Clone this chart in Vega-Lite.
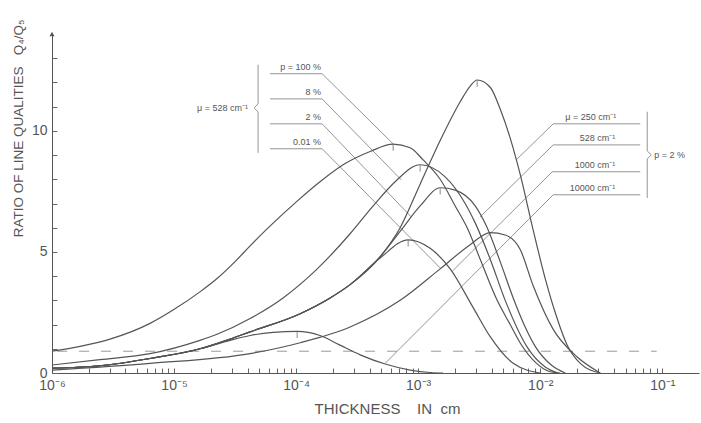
{
  "$schema": "https://vega.github.io/schema/vega-lite/v6.json",
  "width": 647,
  "height": 339,
  "autosize": {"type": "none"},
  "padding": {"left": 52, "top": 34, "right": 2, "bottom": 50},
  "background": "white",
  "config": {"view": {"stroke": null}, "font": "Liberation Sans"},
  "datasets": {
    "curves": [
      {"s":"A","x":1e-6,"y":0.9},{"s":"A","x":1.7e-6,"y":1.1},{"s":"A","x":2.99e-6,"y":1.4},{"s":"A","x":6.36e-6,"y":2.05},{"s":"A","x":9.81e-6,"y":2.6},{"s":"A","x":1.63e-5,"y":3.35},{"s":"A","x":2.25e-5,"y":3.9},{"s":"A","x":3.16e-5,"y":4.6},{"s":"A","x":4.2e-5,"y":5.25},{"s":"A","x":5.78e-5,"y":5.95},{"s":"A","x":1.02e-4,"y":7.1},{"s":"A","x":1.57e-4,"y":7.9},{"s":"A","x":2.52e-4,"y":8.65},{"s":"A","x":4.04e-4,"y":9.15},{"s":"A","x":6.24e-4,"y":9.45},{"s":"A","x":8.6e-4,"y":9.3},{"s":"A","x":1.099e-3,"y":8.8},{"s":"A","x":1.515e-3,"y":8.0},{"s":"A","x":2.011e-3,"y":6.9},{"s":"A","x":2.522e-3,"y":6.0},{"s":"A","x":3.222e-3,"y":4.7},{"s":"A","x":4.441e-3,"y":3.0},{"s":"A","x":5.677e-3,"y":2.0},{"s":"A","x":6.857e-3,"y":1.24},{"s":"A","x":9.1e-3,"y":0.45},{"s":"A","x":1.208e-2,"y":0.05},{"s":"A","x":1.458e-2,"y":0},
      {"s":"B","x":1e-6,"y":0.33},{"s":"B","x":2.47e-6,"y":0.55},{"s":"B","x":6.36e-6,"y":0.8},{"s":"B","x":1.63e-5,"y":1.35},{"s":"B","x":2.25e-5,"y":1.6},{"s":"B","x":4.2e-5,"y":2.25},{"s":"B","x":7.82e-5,"y":3.1},{"s":"B","x":1.49e-4,"y":4.3},{"s":"B","x":2.77e-4,"y":5.75},{"s":"B","x":4.28e-4,"y":6.9},{"s":"B","x":6.48e-4,"y":7.9},{"s":"B","x":1.038e-3,"y":8.6},{"s":"B","x":1.665e-3,"y":8.1},{"s":"B","x":2.428e-3,"y":7.0},{"s":"B","x":2.933e-3,"y":6.2},{"s":"B","x":3.893e-3,"y":4.7},{"s":"B","x":5.166e-3,"y":3.0},{"s":"B","x":7.823e-3,"y":1.07},{"s":"B","x":1.099e-2,"y":0.25},{"s":"B","x":1.404e-2,"y":0},
      {"s":"C","x":1e-6,"y":0.2},{"s":"C","x":2.47e-6,"y":0.3},{"s":"C","x":6.36e-6,"y":0.6},{"s":"C","x":1.63e-5,"y":1.0},{"s":"C","x":2.88e-5,"y":1.4},{"s":"C","x":4.2e-5,"y":1.7},{"s":"C","x":1.08e-4,"y":2.45},{"s":"C","x":1.9e-4,"y":3.1},{"s":"C","x":2.77e-4,"y":3.65},{"s":"C","x":4.88e-4,"y":4.8},{"s":"C","x":7.12e-4,"y":5.85},{"s":"C","x":1.038e-3,"y":6.9},{"s":"C","x":1.515e-3,"y":7.65},{"s":"C","x":2.011e-3,"y":7.55},{"s":"C","x":2.933e-3,"y":6.9},{"s":"C","x":3.678e-3,"y":6.0},{"s":"C","x":4.7e-3,"y":4.6},{"s":"C","x":6.007e-3,"y":3.1},{"s":"C","x":7.53e-3,"y":1.9},{"s":"C","x":9.1e-3,"y":1.1},{"s":"C","x":1.254e-2,"y":0.3},{"s":"C","x":1.603e-2,"y":0},
      {"s":"D","x":1e-6,"y":0.2},{"s":"D","x":2.47e-6,"y":0.3},{"s":"D","x":6.36e-6,"y":0.6},{"s":"D","x":1.63e-5,"y":1.0},{"s":"D","x":2.88e-5,"y":1.4},{"s":"D","x":4.2e-5,"y":1.7},{"s":"D","x":1.08e-4,"y":2.45},{"s":"D","x":1.9e-4,"y":3.1},{"s":"D","x":2.77e-4,"y":3.65},{"s":"D","x":4.88e-4,"y":4.75},{"s":"D","x":8.28e-4,"y":5.5},{"s":"D","x":1.254e-3,"y":5.15},{"s":"D","x":1.83e-3,"y":4.3},{"s":"D","x":2.824e-3,"y":2.7},{"s":"D","x":3.893e-3,"y":1.5},{"s":"D","x":6.007e-3,"y":0.4},{"s":"D","x":1e-2,"y":0},
      {"s":"E","x":1e-6,"y":0.2},{"s":"E","x":2.47e-6,"y":0.3},{"s":"E","x":6.36e-6,"y":0.6},{"s":"E","x":1.63e-5,"y":1.0},{"s":"E","x":2.88e-5,"y":1.4},{"s":"E","x":4.2e-5,"y":1.7},{"s":"E","x":1.08e-4,"y":2.45},{"s":"E","x":1.9e-4,"y":3.1},{"s":"E","x":2.77e-4,"y":3.65},{"s":"E","x":4.88e-4,"y":4.8},{"s":"E","x":7.12e-4,"y":6.0},{"s":"E","x":1.038e-3,"y":7.8},{"s":"E","x":1.515e-3,"y":9.6},{"s":"E","x":2.21e-3,"y":11.2},{"s":"E","x":2.669e-3,"y":11.85},{"s":"E","x":3.045e-3,"y":12.1},{"s":"E","x":3.893e-3,"y":11.8},{"s":"E","x":4.7e-3,"y":10.9},{"s":"E","x":5.677e-3,"y":9.7},{"s":"E","x":6.857e-3,"y":8.2},{"s":"E","x":8.76e-3,"y":5.9},{"s":"E","x":1.099e-2,"y":3.9},{"s":"E","x":1.327e-2,"y":2.5},{"s":"E","x":1.665e-2,"y":1.15},{"s":"E","x":2.128e-2,"y":0.4},{"s":"E","x":3.103e-2,"y":0},
      {"s":"F","x":1e-6,"y":0.12},{"s":"F","x":6.36e-6,"y":0.4},{"s":"F","x":4.2e-5,"y":0.8},{"s":"F","x":1.08e-4,"y":1.25},{"s":"F","x":2.77e-4,"y":1.9},{"s":"F","x":7.12e-4,"y":3.0},{"s":"F","x":1.515e-3,"y":4.3},{"s":"F","x":2.669e-3,"y":5.3},{"s":"F","x":3.893e-3,"y":5.8},{"s":"F","x":5.166e-3,"y":5.7},{"s":"F","x":6.857e-3,"y":5.1},{"s":"F","x":8.76e-3,"y":3.6},{"s":"F","x":1.278e-2,"y":1.8},{"s":"F","x":2.011e-2,"y":0.66},{"s":"F","x":3.103e-2,"y":0},
      {"s":"G","x":1e-6,"y":0.2},{"s":"G","x":2.47e-6,"y":0.3},{"s":"G","x":6.36e-6,"y":0.6},{"s":"G","x":1.63e-5,"y":1.0},{"s":"G","x":2.88e-5,"y":1.35},{"s":"G","x":4.2e-5,"y":1.55},{"s":"G","x":6.48e-5,"y":1.68},{"s":"G","x":1.02e-4,"y":1.72},{"s":"G","x":1.57e-4,"y":1.55},{"s":"G","x":2.29e-4,"y":1.15},{"s":"G","x":3.35e-4,"y":0.75},{"s":"G","x":5.37e-4,"y":0.37},{"s":"G","x":8.6e-4,"y":0.12},{"s":"G","x":1.254e-3,"y":0.02},{"s":"G","x":1.6e-3,"y":0}
    ],
    "leaders": [
      {"s":"L1","o":1,"x":6.12e-5,"y":12.36},{"s":"L1","o":2,"x":1.634e-4,"y":12.36},{"s":"L1","o":3,"x":6.24e-4,"y":9.46},
      {"s":"L2","o":1,"x":6.12e-5,"y":11.32},{"s":"L2","o":2,"x":1.634e-4,"y":11.32},{"s":"L2","o":3,"x":7.26e-4,"y":7.98},
      {"s":"L3","o":1,"x":6.12e-5,"y":10.29},{"s":"L3","o":2,"x":1.634e-4,"y":10.29},{"s":"L3","o":3,"x":8.76e-4,"y":6.45},
      {"s":"L4","o":1,"x":6.12e-5,"y":9.26},{"s":"L4","o":2,"x":1.634e-4,"y":9.26},{"s":"L4","o":3,"x":1.543e-3,"y":4.3},
      {"s":"R1","o":1,"x":6.6e-2,"y":10.29},{"s":"R1","o":2,"x":1.278e-2,"y":10.29},{"s":"R1","o":3,"x":6.36e-3,"y":8.8},
      {"s":"R2","o":1,"x":6.6e-2,"y":9.42},{"s":"R2","o":2,"x":1.278e-2,"y":9.42},{"s":"R2","o":3,"x":3.222e-3,"y":6.45},
      {"s":"R3","o":1,"x":6.6e-2,"y":8.31},{"s":"R3","o":2,"x":1.254e-2,"y":8.31},{"s":"R3","o":3,"x":1.9e-3,"y":4.2},
      {"s":"R4","o":1,"x":6.6e-2,"y":7.36},{"s":"R4","o":2,"x":1.278e-2,"y":7.36},{"s":"R4","o":3,"x":5.37e-4,"y":0.4},
      {"s":"BL","o":1,"x":4.88e-5,"y":12.73},{"s":"BL","o":2,"x":4.88e-5,"y":11.12},{"s":"BL","o":3,"x":4.53e-5,"y":10.95},{"s":"BL","o":4,"x":4.88e-5,"y":10.79},{"s":"BL","o":5,"x":4.88e-5,"y":9.09},
      {"s":"BR","o":1,"x":7.53e-2,"y":10.79},{"s":"BR","o":2,"x":7.53e-2,"y":9.17},{"s":"BR","o":3,"x":8.13e-2,"y":9.01},{"s":"BR","o":4,"x":7.53e-2,"y":8.84},{"s":"BR","o":5,"x":7.53e-2,"y":7.23}
    ],
    "peaks": [
      {"s":"A","x":6.24e-4,"y":9.3},{"s":"B","x":1.038e-3,"y":8.45},{"s":"C","x":1.515e-3,"y":7.5},{"s":"D","x":8.28e-4,"y":5.35},{"s":"E","x":3.045e-3,"y":11.95},{"s":"G","x":1.02e-4,"y":1.57}
    ],
    "labels": [
      {"g":"u","t":"p = 100 %","x":1.6e-4,"y":12.45},
      {"g":"u","t":"8 %","x":1.6e-4,"y":11.41},
      {"g":"u","t":"2 %","x":1.6e-4,"y":10.38},
      {"g":"u","t":"0.01 %","x":1.6e-4,"y":9.35},
      {"g":"u","t":"μ = 250 cm⁻¹","x":4.2e-2,"y":10.38},
      {"g":"u","t":"528 cm⁻¹","x":4.12e-2,"y":9.51},
      {"g":"u","t":"1000 cm⁻¹","x":4.12e-2,"y":8.4},
      {"g":"u","t":"10000 cm⁻¹","x":4.12e-2,"y":7.45},
      {"g":"l","t":"μ = 528 cm⁻¹","x":4.04e-5,"y":10.95},
      {"g":"r","t":"p = 2 %","x":8.6e-2,"y":9.01}
    ],
    "dashed": [{"x":1.1e-6,"y":0.9},{"x":0.09,"y":0.9}],
    "arrow": [{"x":1e-6,"y":14}]
  },
  "encoding": {
    "x": {
      "field": "x", "type": "quantitative",
      "scale": {"type": "log", "domain": [1e-6, 0.2], "nice": false},
      "axis": {
        "title": "THICKNESS\u00a0\u00a0\u00a0 IN\u00a0 cm",
        "titleX": 335, "titleY": 35, "titleAlign": "center", "titleBaseline": "middle",
        "titleFontSize": 15, "titleFontWeight": "normal", "titleColor": "#555", "titleFont": "Liberation Sans",
        "values": [1e-6,2e-6,3e-6,4e-6,5e-6,6e-6,7e-6,8e-6,9e-6,1e-5,2e-5,3e-5,4e-5,5e-5,6e-5,7e-5,8e-5,9e-5,1e-4,2e-4,3e-4,4e-4,5e-4,6e-4,7e-4,8e-4,9e-4,1e-3,2e-3,3e-3,4e-3,5e-3,6e-3,7e-3,8e-3,9e-3,1e-2,2e-2,3e-2,4e-2,5e-2,6e-2,7e-2,8e-2,9e-2,0.1],
        "labelExpr": "datum.value == 0.000001 ? '10⁻⁶' : datum.value == 0.00001 ? '10⁻⁵' : datum.value == 0.0001 ? '10⁻⁴' : datum.value == 0.001 ? '10⁻³' : datum.value == 0.01 ? '10⁻²' : datum.value == 0.1 ? '10⁻¹' : ''",
        "labelOverlap": false, "labelFlush": false,
        "tickSize": -5, "labelPadding": 10, "tickColor": "#666", "domainColor": "#555",
        "labelFontSize": 14, "labelColor": "#555", "labelFont": "Liberation Sans", "grid": false
      }
    },
    "y": {
      "field": "y", "type": "quantitative",
      "scale": {"domain": [0, 14], "nice": false},
      "axis": {
        "title": "RATIO OF LINE QUALITIES\u00a0\u00a0 Q₄/Q₅",
        "titleX": -34, "titleY": 94, "titleAlign": "center", "titleBaseline": "middle", "titleAngle": -90,
        "titleFontSize": 13.5, "titleFontWeight": "normal", "titleColor": "#555", "titleFont": "Liberation Sans",
        "values": [0,1,2,3,4,5,6,7,8,9,10,11,12,13],
        "labelExpr": "datum.value % 5 == 0 ? datum.label : ''",
        "tickSize": -5, "labelPadding": 10, "tickColor": "#666", "domainColor": "#555",
        "labelFontSize": 14, "labelColor": "#555", "labelFont": "Liberation Sans", "grid": false
      }
    }
  },
  "layer": [
    {"data": {"name": "dashed"}, "mark": {"type": "line", "stroke": "#999", "strokeWidth": 1, "strokeDash": [10, 12]}},
    {"data": {"name": "leaders"}, "mark": {"type": "line", "stroke": "#888", "strokeWidth": 0.9}, "encoding": {"detail": {"field": "s"}, "order": {"field": "o"}}},
    {"data": {"name": "curves"}, "mark": {"type": "line", "stroke": "#555", "strokeWidth": 1.2, "interpolate": "monotone"}, "encoding": {"detail": {"field": "s"}}},
    {"data": {"name": "peaks"}, "mark": {"type": "tick", "orient": "vertical", "size": 6, "thickness": 1, "color": "#555"}},
    {"data": {"name": "labels"}, "transform": [{"filter": "datum.g == 'u'"}], "mark": {"type": "text", "align": "right", "baseline": "bottom", "fontSize": 9, "color": "#555", "font": "Liberation Sans"}, "encoding": {"text": {"field": "t"}}},
    {"data": {"name": "labels"}, "transform": [{"filter": "datum.g == 'l'"}], "mark": {"type": "text", "align": "right", "baseline": "middle", "fontSize": 9, "color": "#555", "font": "Liberation Sans"}, "encoding": {"text": {"field": "t"}}},
    {"data": {"name": "labels"}, "transform": [{"filter": "datum.g == 'r'"}], "mark": {"type": "text", "align": "left", "baseline": "middle", "fontSize": 9, "color": "#555", "font": "Liberation Sans"}, "encoding": {"text": {"field": "t"}}},
    {"data": {"name": "arrow"}, "mark": {"type": "point", "shape": "triangle-up", "size": 25, "filled": true, "color": "#555", "opacity": 1}}
  ]
}
